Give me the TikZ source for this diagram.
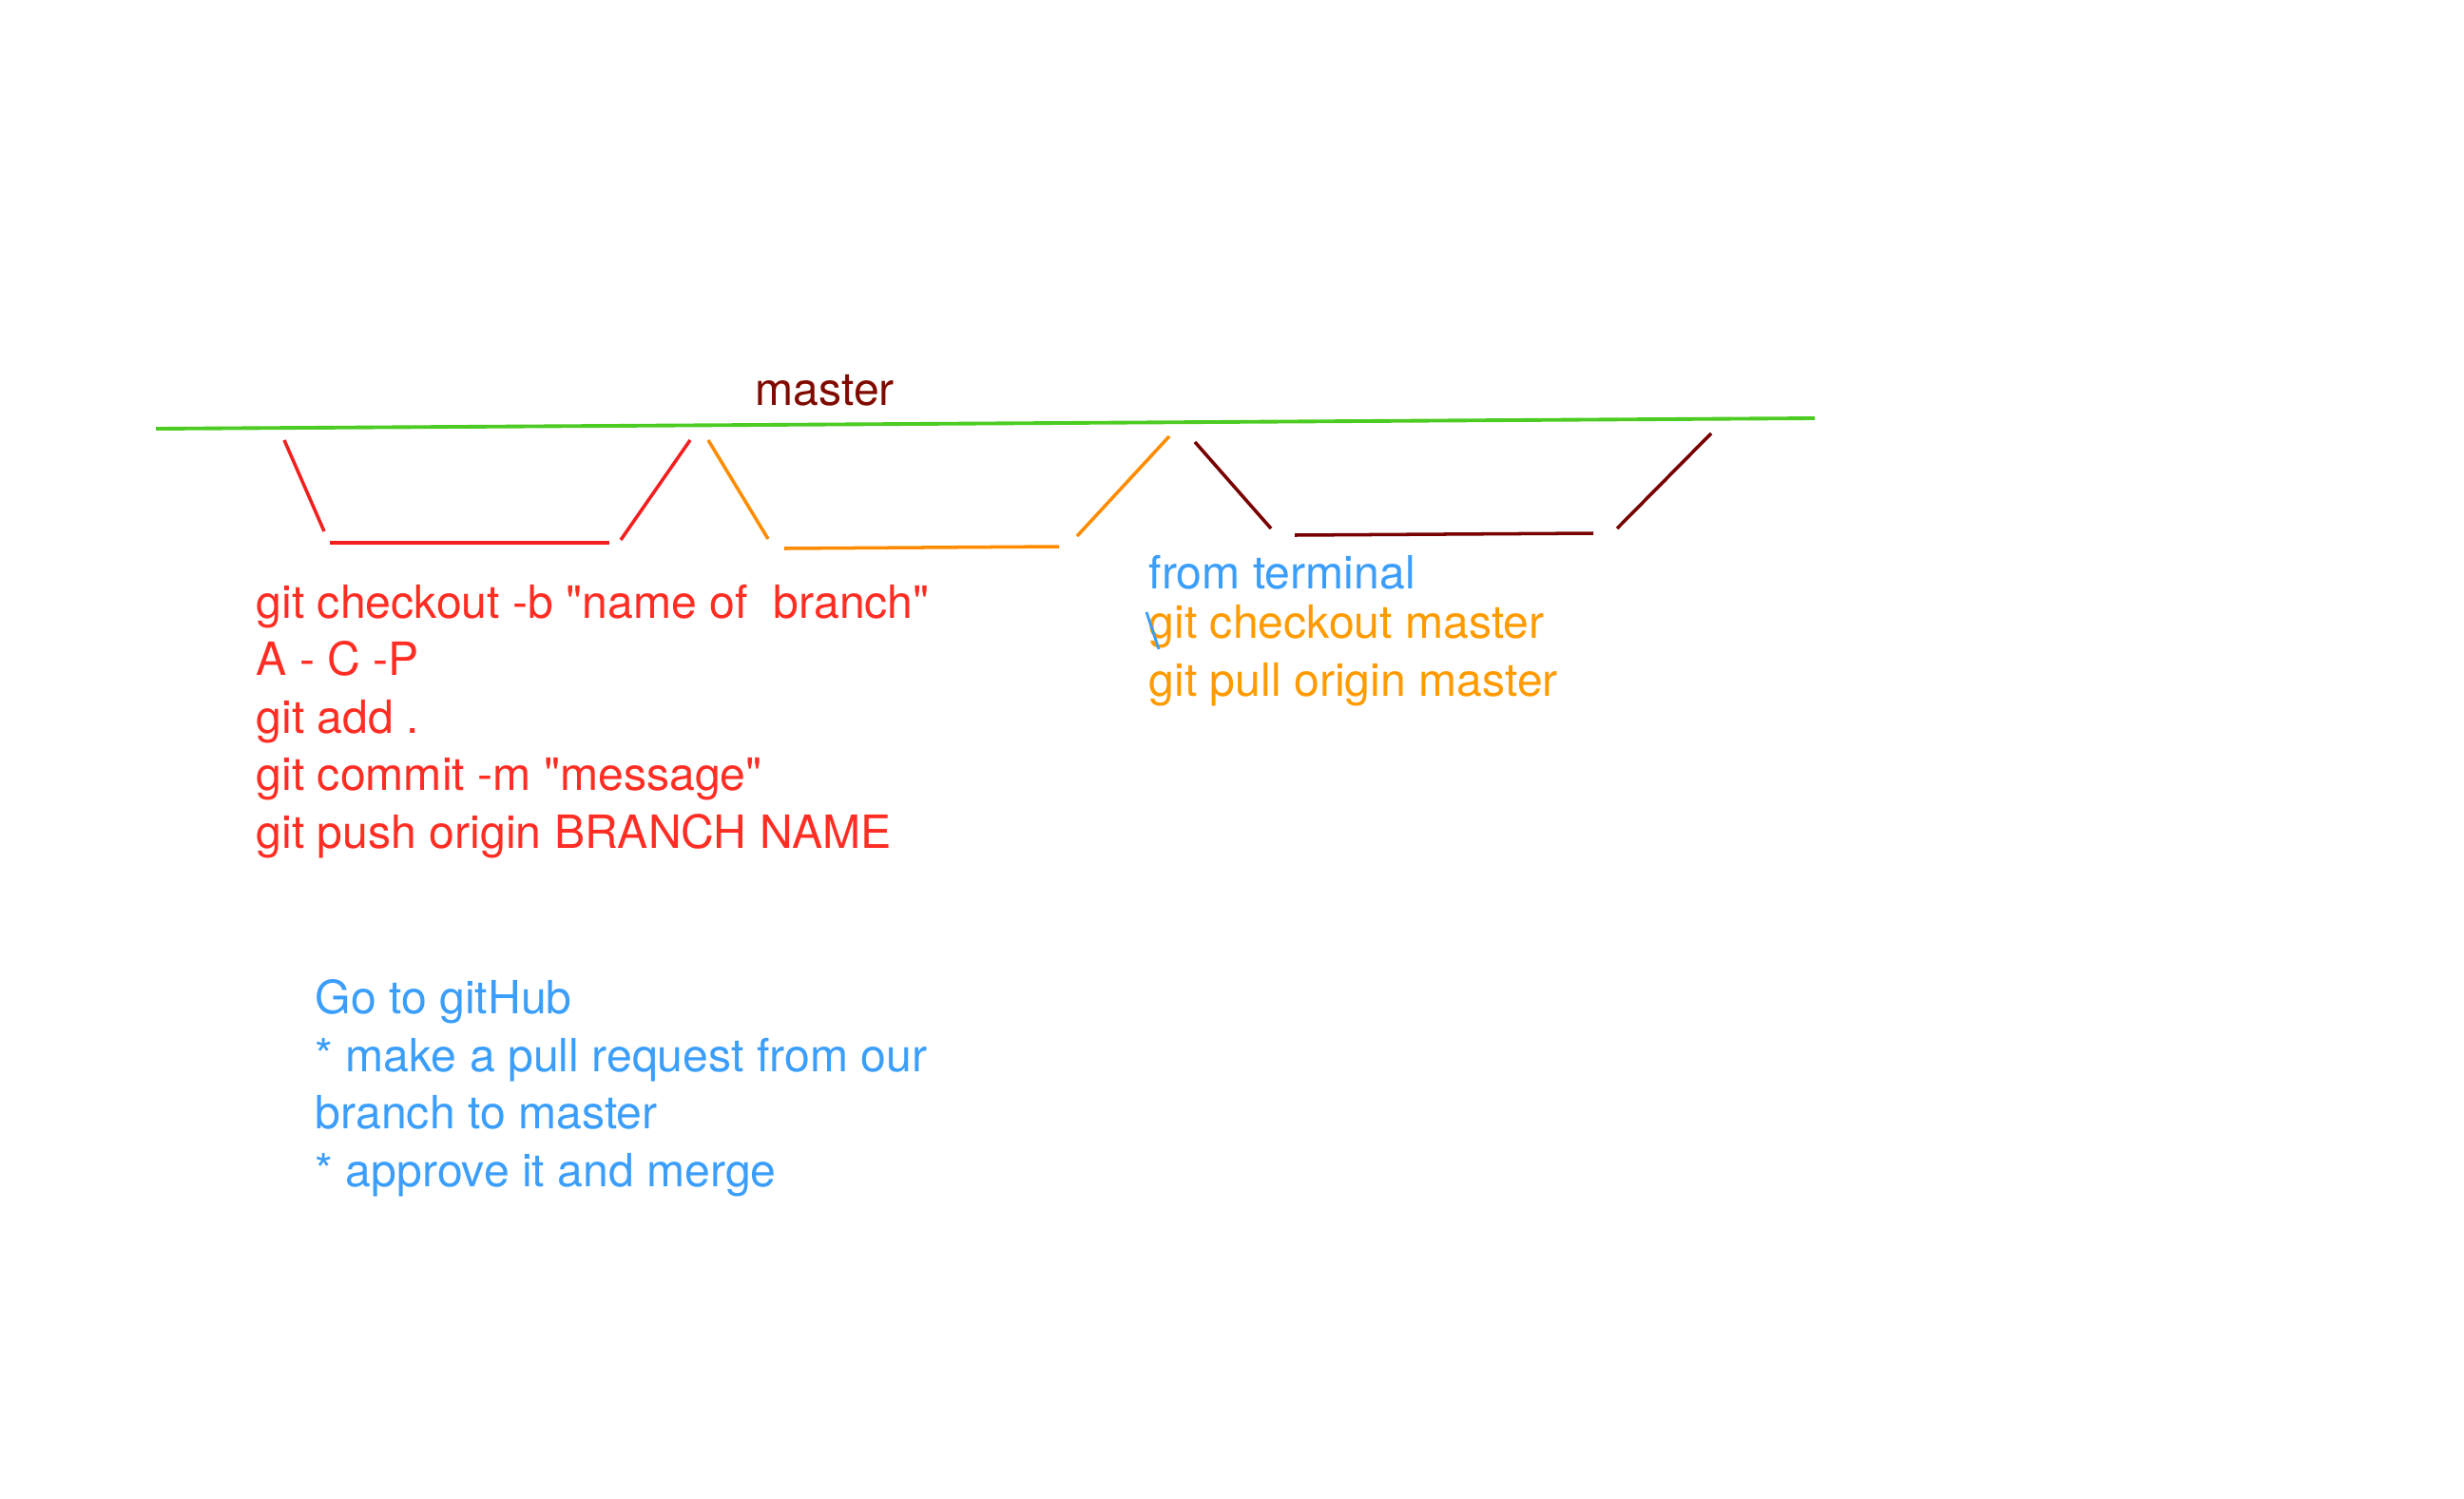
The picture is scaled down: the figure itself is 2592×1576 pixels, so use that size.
\documentclass[tikz,border=0pt]{standalone}
\usepackage{fontspec}
\setmainfont{TeX Gyre Heros}
\usepackage{xcolor}
\definecolor{mastergreen}{RGB}{76,204,34}
\definecolor{mastertext}{RGB}{128,10,0}
\definecolor{featred}{RGB}{245,30,30}
\definecolor{textred}{RGB}{255,45,35}
\definecolor{pullorange}{RGB}{255,140,0}
\definecolor{textorange}{RGB}{255,155,0}
\definecolor{mergered}{RGB}{120,0,0}
\definecolor{noteblue}{RGB}{58,158,250}

\begin{document}
\begin{tikzpicture}[x=0.01cm, y=-0.01cm,
    seg/.style={line width=1pt},
    notes/.style={anchor=base west, inner sep=0pt, align=left,
      font=\fontsize{13.7pt}{17.2pt}\selectfont}]
  \useasboundingbox (0,0) rectangle (2592,1576);

  % master line
  \draw[mastergreen, line width=1.1pt] (164,451) -- (1909,440);
  \node[notes, text=mastertext] (mlabel) at (794,426) {master};

  % feature branch
  \draw[seg, featred] (299,463) -- (341,559);
  \draw[seg, featred] (347,571) -- (641,571);
  \draw[seg, featred] (653,568) -- (726,463);

  % pull back
  \draw[seg, pullorange] (745,463) -- (808,567);
  \draw[seg, pullorange] (825,577) -- (1114,575);
  \draw[seg, pullorange] (1133,564) -- (1230,459);

  % next branch
  \draw[seg, mergered] (1257,465) -- (1337,556);
  \draw[seg, mergered] (1362,563) -- (1676,561);
  \draw[seg, mergered] (1701,556) -- (1800,456);

  % base anchor sits on the last line
  \node[notes, text=textred] (steps) at (269,892) {git checkout -b \textquotedbl name of\ \ branch\textquotedbl\\
    A - C -P\\
    git add .\\
    git commit -m \textquotedbl message\textquotedbl\\
    git push origin BRANCH NAME};

  \node[notes, text=noteblue] (github) at (331,1248) {Go to gitHub\\
    * make a pull request from our\\
    branch to master\\
    * approve it and merge};

  \node[notes, text=noteblue] (term) at (1208,619) {from terminal};
  \node[notes, text=textorange] (pull) at (1208,732) {git checkout master\\
    git pull origin master};
  \draw[noteblue, line width=0.8pt] (1206,644) -- (1219,683);
\end{tikzpicture}
\end{document}
